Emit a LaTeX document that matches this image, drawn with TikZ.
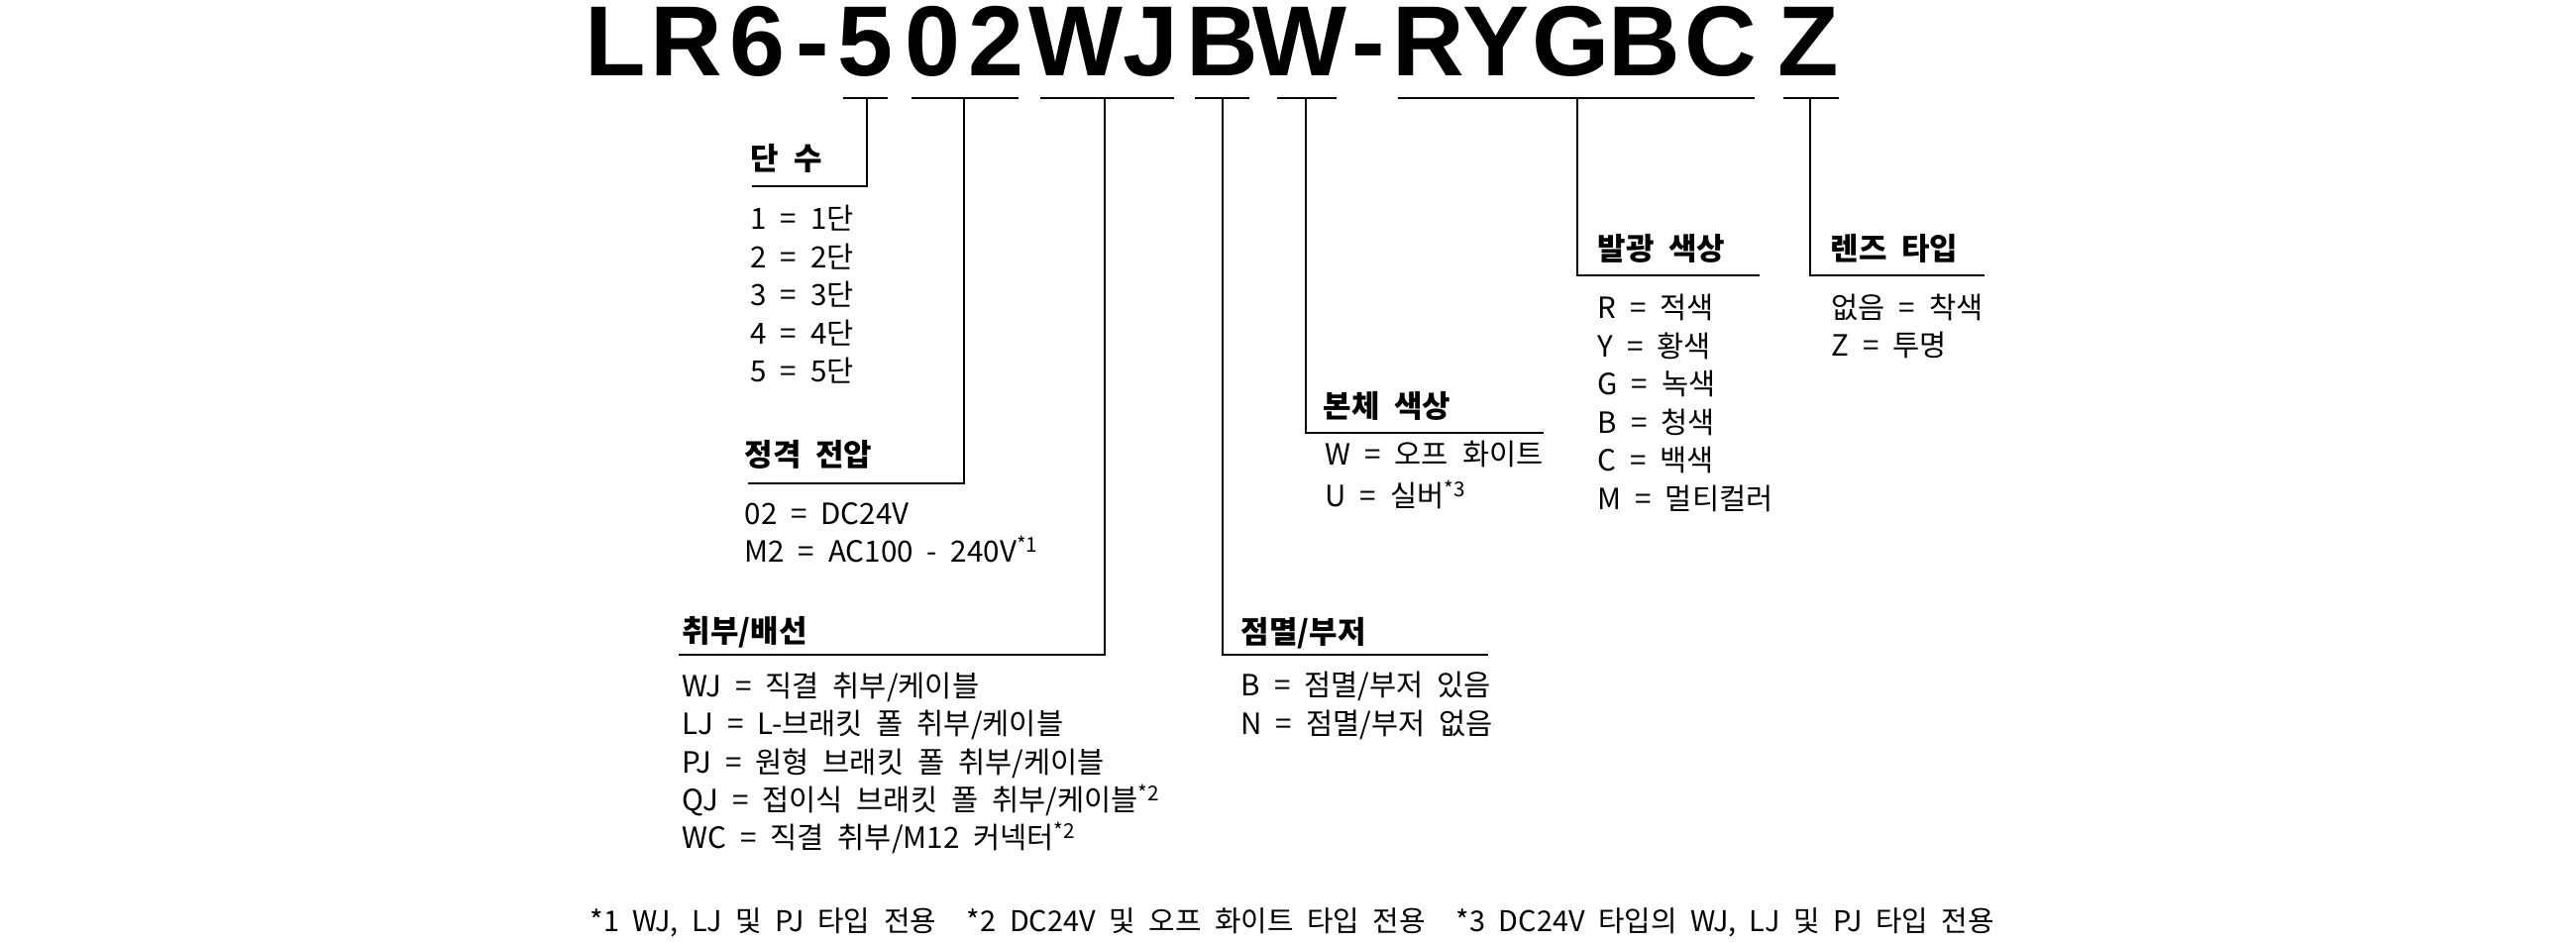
\documentclass[tikz,border=0pt]{standalone}
\usepackage{fontspec}
\setmainfont{Noto Sans CJK KR}[WordSpace=2.1]
\newfontfamily\codefont{Liberation Sans}
\tikzset{
  code/.style={font=\codefont\bfseries\fontsize{28.6}{30}\selectfont, inner sep=0pt, anchor=base},
  head/.style={font=\bfseries\fontsize{8.8}{11}\selectfont, inner sep=0pt, anchor=base west},
  item/.style={font=\fontsize{8.4}{10}\selectfont, inner sep=0pt, anchor=base west},
  note/.style={font=\fontsize{8.2}{10}\selectfont, inner sep=0pt, anchor=base west},
  seg/.style={line width=0.6pt},
  lead/.style={line width=0.45pt},
}

\begin{document}
\begin{tikzpicture}[x=0.01cm, y=-0.01cm]
  \useasboundingbox (0,0) rectangle (2600,950);
  % model code, one letter at a time
  \foreach \c/\x [count=\i] in {L/621, R/693, 6/764, -/820, 5/873, 0/941, 2/1005, W/1086, J/1161,
      B/1234, W/1312, -/1381, R/1442, Y/1510, G/1586, B/1660, C/1737, Z/1825}
    \node[code] (c\i) at (\x,76) {\c};
  % bars under the code
  \foreach \n/\a/\b/\k in {stage/851/896/875, volt/920/1028/973, mount/1050/1185/1115, flash/1206/1261/1234,
      body/1289/1349/1318, light/1411/1771/1592, lens/1800/1856/1827} {
    \draw[seg] (\a,99) -- (\b,99);
    \coordinate (k-\n) at (\k,99);
  }

  % 단 수
  \node[head] (stage) at (757,171) {단 수};
  \coordinate (stage-e) at (759,188);
  \draw[lead] (k-stage) |- (stage-e);
  \foreach \t [count=\i from 0] in {1 = 1단, 2 = 2단, 3 = 3단, 4 = 4단, 5 = 5단}
    \node[item] (stage\i) at (757,{231.5+38.5*\i}) {\t};

  % 정격 전압
  \node[head] (volt) at (751,470) {정격 전압};
  \coordinate (volt-e) at (755,488);
  \draw[lead] (k-volt) |- (volt-e);
  \node[item] (volt0) at (751,529.5) {02 = DC24V};
  \node[item] (volt1) at (751,567.5) {M2 = AC100 - 240V\textsuperscript{*1}};

  % 취부/배선
  \node[head] (mount) at (688,648) {취부/배선};
  \coordinate (mount-e) at (685,661);
  \draw[lead] (k-mount) |- (mount-e);
  \foreach \t [count=\i from 0] in {WJ = 직결 취부/케이블, LJ = L-브래킷 폴 취부/케이블,
      PJ = 원형 브래킷 폴 취부/케이블, QJ = 접이식 브래킷 폴 취부/케이블\textsuperscript{*2},
      WC = 직결 취부/M12 커넥터\textsuperscript{*2}}
    \node[item] (mount\i) at (688,{703.5+38.3*\i}) {\t};

  % 점멸/부저
  \node[head] (flash) at (1252,649) {점멸/부저};
  \coordinate (flash-e) at (1502,661);
  \draw[lead] (k-flash) |- (flash-e);
  \node[item] (flash0) at (1252,702.5) {B = 점멸/부저 있음};
  \node[item] (flash1) at (1252,741.5) {N = 점멸/부저 없음};

  % 본체 색상
  \node[head] (body) at (1335,421) {본체 색상};
  \coordinate (body-e) at (1558,437);
  \draw[lead] (k-body) |- (body-e);
  \node[item] (body0) at (1337,469.5) {W = 오프 화이트};
  \node[item] (body1) at (1337,511.5) {U = 실버\textsuperscript{*3}};

  % 발광 색상
  \node[head] (light) at (1612,262) {발광 색상};
  \coordinate (light-e) at (1776,278);
  \draw[lead] (k-light) |- (light-e);
  \foreach \t [count=\i from 0] in {R = 적색, Y = 황색, G = 녹색, B = 청색, C = 백색, M = 멀티컬러}
    \node[item] (light\i) at (1612,{321.5+38.6*\i}) {\t};

  % 렌즈 타입
  \node[head] (lens) at (1847,262) {렌즈 타입};
  \coordinate (lens-e) at (2003,278);
  \draw[lead] (k-lens) |- (lens-e);
  \node[item] (lens0) at (1848,321.5) {없음 = 착색};
  \node[item] (lens1) at (1848,359.5) {Z = 투명};

  % notes
  \node[note] (notes) at (595,940) {*1 WJ, LJ 및 PJ 타입 전용\hspace{0.6em} *2 DC24V 및 오프 화이트 타입 전용\hspace{0.6em} *3 DC24V 타입의 WJ, LJ 및 PJ 타입 전용};
\end{tikzpicture}
\end{document}
